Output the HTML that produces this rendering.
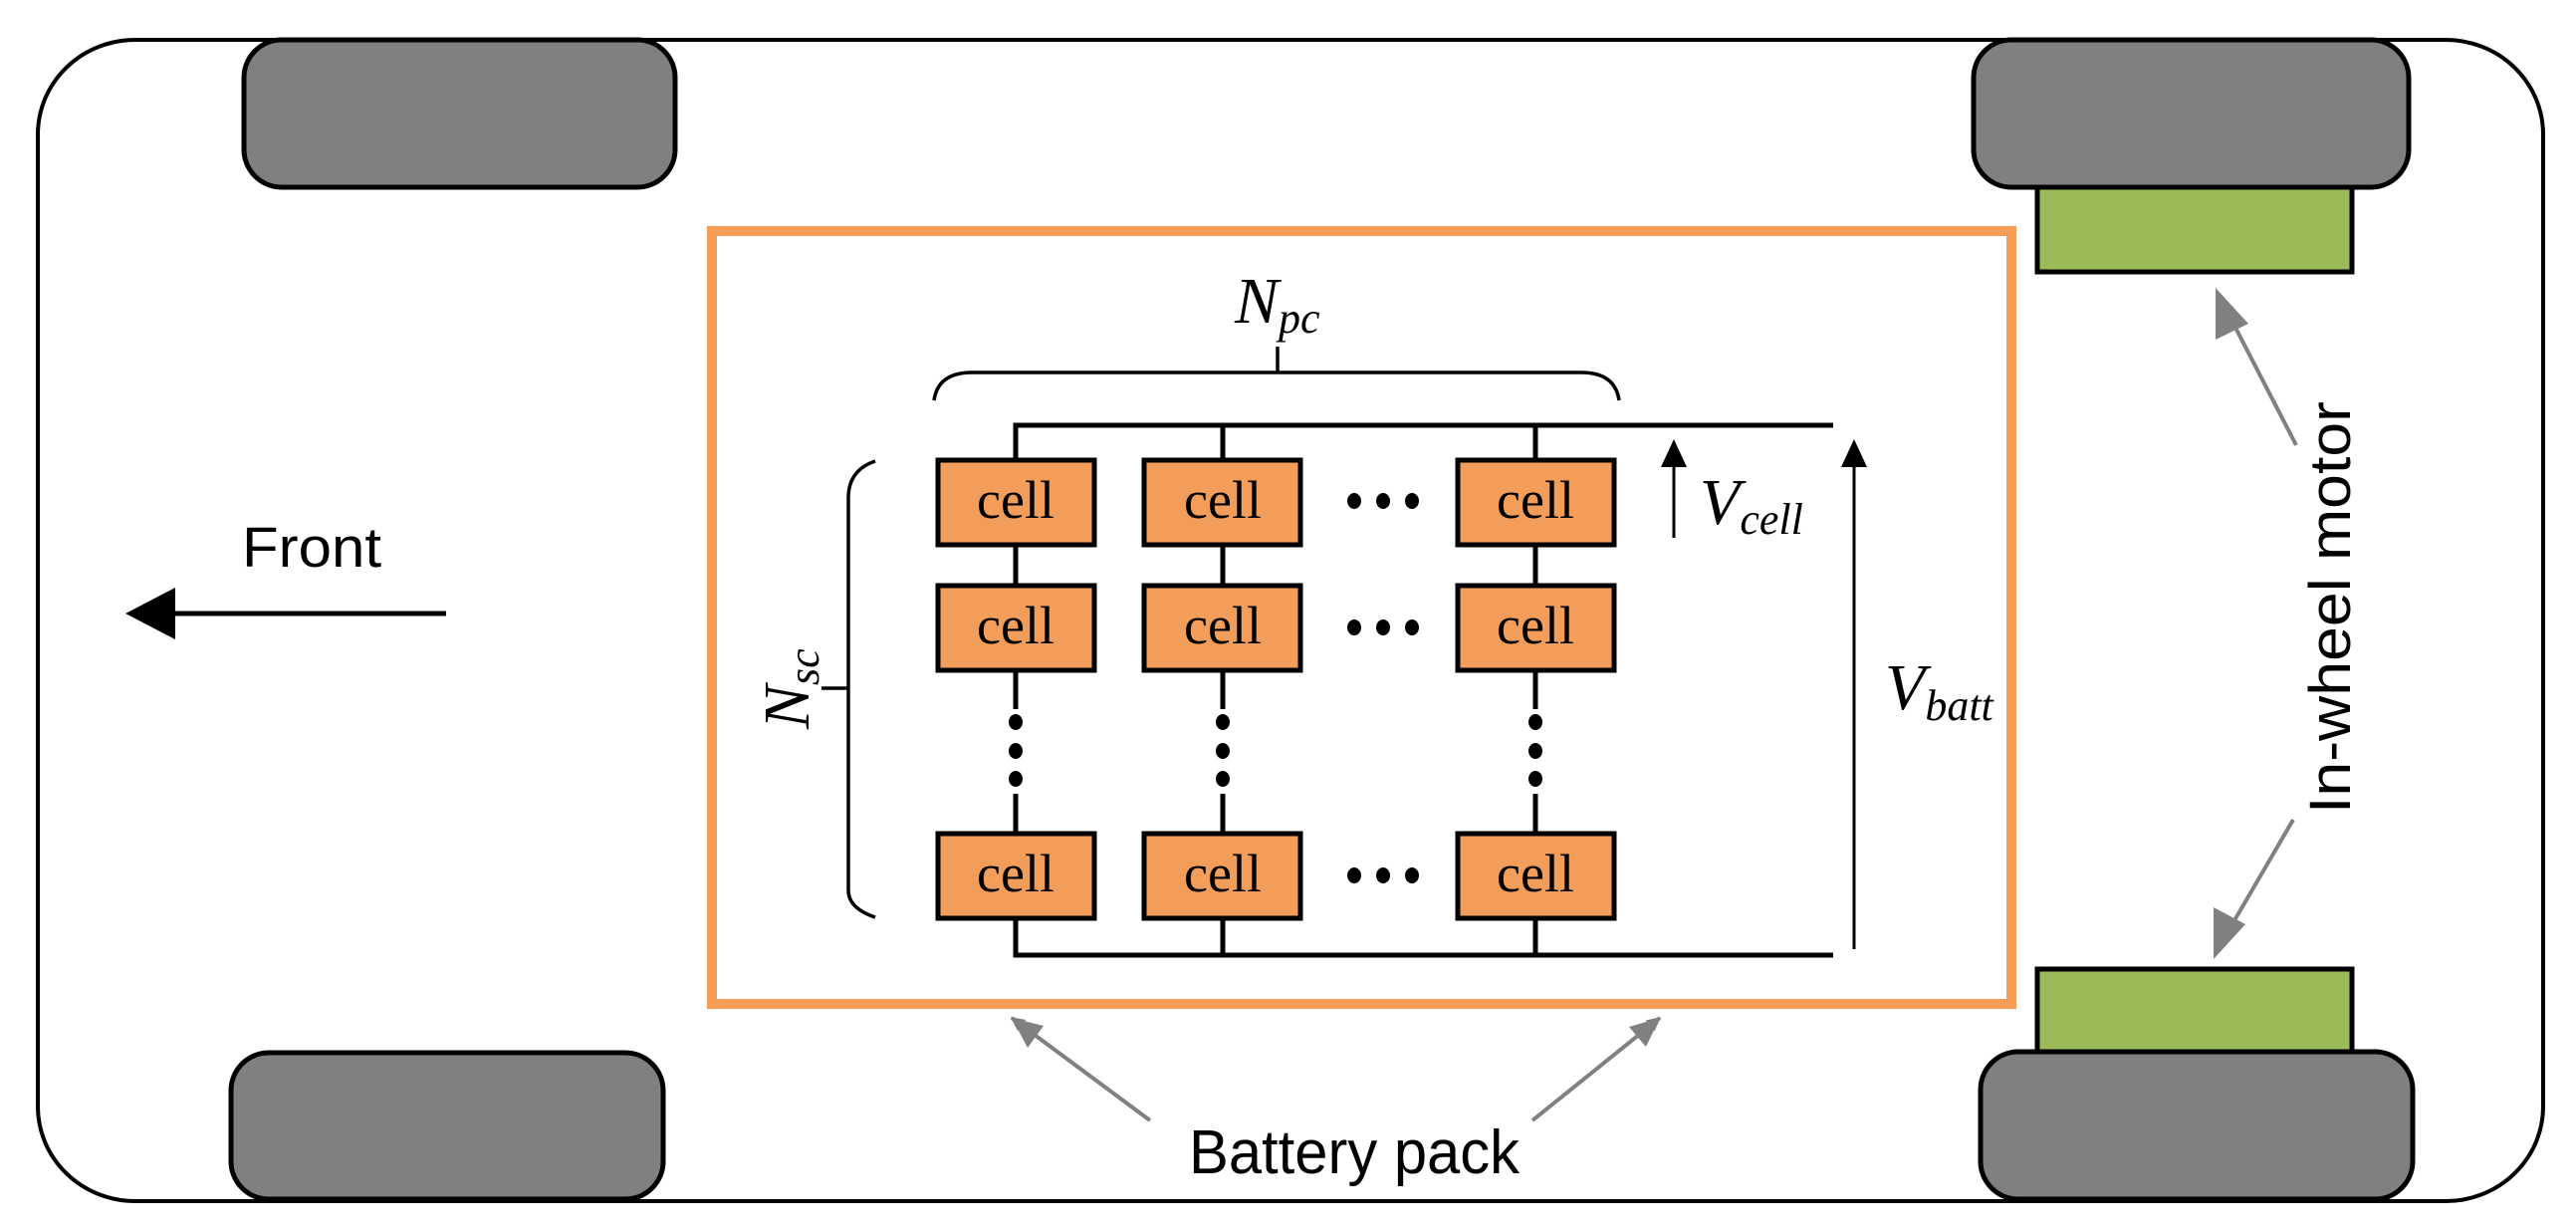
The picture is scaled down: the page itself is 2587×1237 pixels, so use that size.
<!DOCTYPE html>
<html><head><meta charset="utf-8"><style>html,body{margin:0;padding:0;background:#fff;}svg{display:block}</style></head>
<body>
<svg width="2587" height="1237" viewBox="0 0 2587 1237" xmlns="http://www.w3.org/2000/svg">
<defs>
<marker id="ga" viewBox="0 0 10 10" refX="9" refY="5" markerWidth="14" markerHeight="14" markerUnits="userSpaceOnUse" orient="auto"><path d="M0,0 L10,5 L0,10 z" fill="#808080"/></marker>
</defs>
<!-- car body -->
<rect x="38" y="40" width="2516" height="1166" rx="98" ry="95" fill="#fff" stroke="#000" stroke-width="4"/>
<!-- wheels -->
<rect x="245" y="40" width="433" height="148" rx="38" fill="#808080" stroke="#000" stroke-width="5"/>
<rect x="232" y="1057" width="434" height="147" rx="38" fill="#808080" stroke="#000" stroke-width="5"/>
<rect x="2046" y="186" width="316" height="87" fill="#9BBB59" stroke="#000" stroke-width="5"/>
<rect x="1982" y="40" width="437" height="148" rx="38" fill="#808080" stroke="#000" stroke-width="5"/>
<rect x="2046" y="973" width="316" height="86" fill="#9BBB59" stroke="#000" stroke-width="5"/>
<rect x="1989" y="1056" width="434" height="148" rx="38" fill="#808080" stroke="#000" stroke-width="5"/>
<!-- battery box -->
<rect x="715" y="232" width="1305" height="776" fill="none" stroke="#F59D57" stroke-width="10"/>
<!-- buses -->
<path d="M1020,462 V427 H1841 M1228,427 V460 M1542,427 V460" fill="none" stroke="#000" stroke-width="5"/>
<path d="M1020,923 V959 H1841 M1228,923 V959 M1542,923 V959" fill="none" stroke="#000" stroke-width="5"/>
<!-- column links -->
<g stroke="#000" stroke-width="5">
<line x1="1020" y1="547" x2="1020" y2="586"/><line x1="1228" y1="547" x2="1228" y2="586"/><line x1="1542" y1="547" x2="1542" y2="586"/>
<line x1="1020" y1="673" x2="1020" y2="712"/><line x1="1228" y1="673" x2="1228" y2="712"/><line x1="1542" y1="673" x2="1542" y2="712"/>
<line x1="1020" y1="797" x2="1020" y2="835"/><line x1="1228" y1="797" x2="1228" y2="835"/><line x1="1542" y1="797" x2="1542" y2="835"/>
</g>
<g fill="#000">
<ellipse cx="1020" cy="725" rx="7" ry="8"/><ellipse cx="1020" cy="754" rx="7" ry="8"/><ellipse cx="1020" cy="782" rx="7" ry="8"/>
<ellipse cx="1228" cy="725" rx="7" ry="8"/><ellipse cx="1228" cy="754" rx="7" ry="8"/><ellipse cx="1228" cy="782" rx="7" ry="8"/>
<ellipse cx="1542" cy="725" rx="7" ry="8"/><ellipse cx="1542" cy="754" rx="7" ry="8"/><ellipse cx="1542" cy="782" rx="7" ry="8"/>
<ellipse cx="1360" cy="503" rx="7" ry="8"/><ellipse cx="1389" cy="503" rx="7" ry="8"/><ellipse cx="1418" cy="503" rx="7" ry="8"/>
<ellipse cx="1360" cy="630" rx="7" ry="8"/><ellipse cx="1389" cy="630" rx="7" ry="8"/><ellipse cx="1418" cy="630" rx="7" ry="8"/>
<ellipse cx="1360" cy="879" rx="7" ry="8"/><ellipse cx="1389" cy="879" rx="7" ry="8"/><ellipse cx="1418" cy="879" rx="7" ry="8"/>
</g>
<!-- cells -->
<g fill="#F39D5A" stroke="#000" stroke-width="5">
<rect x="942" y="462" width="157" height="85"/><rect x="1149" y="462" width="157" height="85"/><rect x="1464" y="462" width="157" height="85"/>
<rect x="942" y="588" width="157" height="85"/><rect x="1149" y="588" width="157" height="85"/><rect x="1464" y="588" width="157" height="85"/>
<rect x="942" y="837" width="157" height="85"/><rect x="1149" y="837" width="157" height="85"/><rect x="1464" y="837" width="157" height="85"/>
</g>
<g font-family="Liberation Serif, serif" font-size="54" text-anchor="middle">
<text x="1020" y="520">cell</text><text x="1228" y="520">cell</text><text x="1542" y="520">cell</text>
<text x="1020" y="646">cell</text><text x="1228" y="646">cell</text><text x="1542" y="646">cell</text>
<text x="1020" y="895">cell</text><text x="1228" y="895">cell</text><text x="1542" y="895">cell</text>
</g>
<!-- braces -->
<path d="M938,402 Q942,374 976,374 H1588 Q1622,374 1626,402 M1283,374 V348" fill="none" stroke="#000" stroke-width="3.5"/>
<path d="M879,463 Q852,472 852,500 V894 Q852,912 879,921 M852,691 H825" fill="none" stroke="#000" stroke-width="3.5"/>
<!-- labels -->
<text x="1240" y="324" font-family="Liberation Serif, serif" font-style="italic" font-size="66">N<tspan font-size="44" dy="10">pc</tspan></text>
<text transform="translate(812,732) rotate(-90)" font-family="Liberation Serif, serif" font-style="italic" font-size="66">N<tspan font-size="44" dy="10">sc</tspan></text>
<text x="1707" y="526" font-family="Liberation Serif, serif" font-style="italic" font-size="66">V<tspan font-size="44" dy="10">cell</tspan></text>
<text x="1893" y="712" font-family="Liberation Serif, serif" font-style="italic" font-size="66">V<tspan font-size="44" dy="11">batt</tspan></text>
<!-- voltage arrows -->
<line x1="1681" y1="540" x2="1681" y2="464" stroke="#000" stroke-width="3"/>
<path d="M1681,441 L1694,469 L1668,469 z" fill="#000"/>
<line x1="1862" y1="953" x2="1862" y2="464" stroke="#000" stroke-width="3"/>
<path d="M1862,441 L1875,469 L1849,469 z" fill="#000"/>
<!-- front -->
<text x="243" y="569" font-family="Liberation Sans, sans-serif" font-size="57" textLength="140" lengthAdjust="spacingAndGlyphs">Front</text>
<line x1="448" y1="616" x2="170" y2="616" stroke="#000" stroke-width="5"/>
<path d="M126,616 L176,590 L176,642 z" fill="#000"/>
<!-- battery pack -->
<text x="1194" y="1178" font-family="Liberation Sans, sans-serif" font-size="62" textLength="332" lengthAdjust="spacingAndGlyphs">Battery pack</text>
<line x1="1155" y1="1125" x2="1016" y2="1022" stroke="#808080" stroke-width="4" marker-end="url(#ga)"/>
<line x1="1539" y1="1125" x2="1667" y2="1022" stroke="#808080" stroke-width="4" marker-end="url(#ga)"/>
<path d="M1016,1022 L1048,1030 L1032,1052 z" fill="#808080"/>
<path d="M1667,1022 L1653,1051 L1636,1031 z" fill="#808080"/>
<!-- in-wheel motor -->
<text transform="translate(2360,817) rotate(-90)" font-family="Liberation Sans, sans-serif" font-size="58" textLength="414" lengthAdjust="spacingAndGlyphs">In-wheel motor</text>
<line x1="2306" y1="447" x2="2228" y2="296" stroke="#808080" stroke-width="4"/>
<path d="M2225,289 L2258,325 L2225,341 z" fill="#808080"/>
<line x1="2303" y1="823" x2="2226" y2="955" stroke="#808080" stroke-width="4"/>
<path d="M2223,963 L2223,911 L2255,928 z" fill="#808080"/>
</svg>
</body></html>
